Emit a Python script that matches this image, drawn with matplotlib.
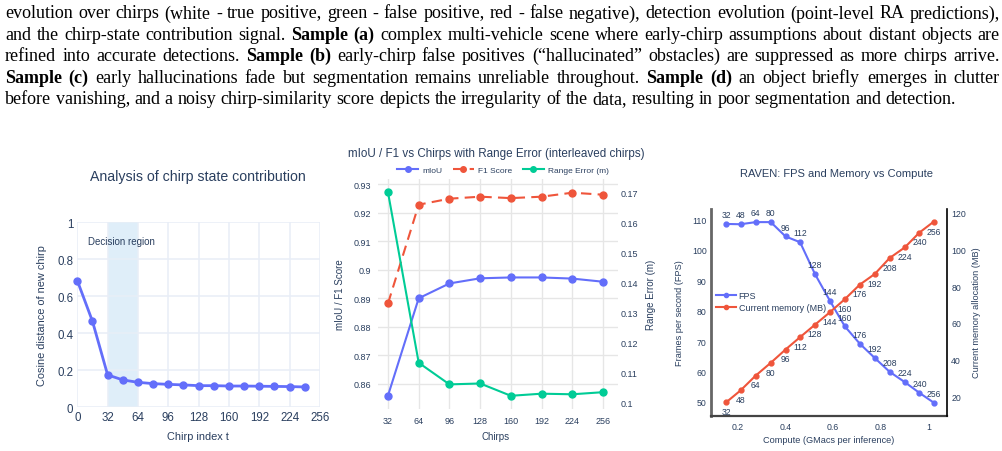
import matplotlib
matplotlib.use('Agg')

from matplotlib import pyplot as plt
from matplotlib.lines import Line2D

W, H = 1003, 452
TXT = '#2a3f5f'
BLUE, RED, GREEN = '#636efa', '#ef553b', '#00cc96'

# caption text above the plots: (text, bold) pieces per line
caption = [
    [('evolution over chirps (white - true positive, green - false positive, red - false negative), detection evolution (point-level RA predictions),', False)],
    [('and the chirp-state contribution signal.', False), ('Sample (a)', True),
     ('complex multi-vehicle scene where early-chirp assumptions about distant objects are', False)],
    [('refined into accurate detections.', False), ('Sample (b)', True),
     ('early-chirp false positives (\u201challucinated\u201d obstacles) are suppressed as more chirps arrive.', False)],
    [('Sample (c)', True), ('early hallucinations fade but segmentation remains unreliable throughout.', False),
     ('Sample (d)', True), ('an object briefly emerges in clutter', False)],
    [('before vanishing, and a noisy chirp-similarity score depicts the irregularity of the data, resulting in poor segmentation and detection.', False)],
]

# chart 1: chirp state contribution
chirp_t = [0, 16, 32, 48, 64, 80, 96, 112, 128, 144, 160, 176, 192, 208, 224, 240]
cos_dist = [0.685, 0.465, 0.175, 0.148, 0.135, 0.128, 0.124, 0.121, 0.117, 0.117,
            0.115, 0.115, 0.114, 0.113, 0.112, 0.110]
decision_start, decision_end = 32, 64

# chart 2: mIoU / F1 / range error
chirps = [32, 64, 96, 128, 160, 192, 224, 256]
miou = [0.8559, 0.8900, 0.8952, 0.8970, 0.8973, 0.8973, 0.8969, 0.8958]
f1 = [0.8882, 0.9228, 0.9249, 0.9256, 0.9251, 0.9256, 0.9270, 0.9263]
range_err = [0.1700, 0.1132, 0.1060, 0.1063, 0.1022, 0.1029, 0.1027, 0.1034]

# chart 3: RAVEN fps / memory vs compute
n_chirps = [32, 48, 64, 80, 96, 112, 128, 144, 160, 176, 192, 208, 224, 240, 256]
compute = [0.150, 0.211, 0.275, 0.338, 0.400, 0.461, 0.524, 0.587, 0.649, 0.712,
           0.775, 0.837, 0.901, 0.962, 1.022]
fps = [108.4, 108.3, 109.0, 109.0, 104.3, 102.4, 91.9, 83.1, 74.8, 69.1,
       64.4, 59.9, 56.5, 53.0, 49.8]
memory = [16.9, 23.4, 31.5, 38.4, 45.6, 52.3, 59.1, 65.9, 72.9, 80.8,
          86.6, 95.2, 101.0, 109.0, 114.9]


def rect(l, t, r, b):
    return [l / W, 1 - b / H, (r - l) / W, (b - t) / H]


def ftext(x, y, s, **kw):
    kw.setdefault('color', TXT)
    kw.setdefault('family', 'Liberation Sans')
    kw.setdefault('ha', 'center')
    kw.setdefault('va', 'center')
    return fig.text(x / W, 1 - y / H, s, **kw)


fig = plt.figure(figsize=(W / 100, H / 100), dpi=100)
renderer = fig.canvas.get_renderer()

# ---- justified caption ----
def word_width(s, bold, fs):
    t = fig.text(0, 0, s, fontsize=fs, family='Liberation Serif',
                 weight='bold' if bold else 'normal')
    w = t.get_window_extent(renderer).width
    t.remove()
    return w

def split_words(line):
    words = []
    for s, b in line:
        for w in s.split(' '):
            words.append((w, b))
    return words

left, right = 5, 1000
fs0 = 10
space0 = word_width('a a', False, fs0) - word_width('aa', False, fs0)
widest = 0
for line in caption:
    ws = split_words(line)
    nat = sum(word_width(w, b, fs0) for w, b in ws) + space0 * (len(ws) - 1)
    widest = max(widest, nat)
fs = fs0 * (right - left) * 0.985 / widest
space = word_width('a a', False, fs) - word_width('aa', False, fs)

baselines = [18.5, 40, 61.3, 82.8, 104.3]
for i, line in enumerate(caption):
    ws = split_words(line)
    widths = [word_width(w, b, fs) for w, b in ws]
    if i < len(caption) - 1:
        gap = (right - left - sum(widths)) / (len(ws) - 1)
    else:
        gap = space
    x = left
    for (w, b), wd in zip(ws, widths):
        fig.text(x / W, 1 - baselines[i] / H, w, fontsize=fs, family='Liberation Serif',
                 weight='bold' if b else 'normal', color='black', ha='left', va='baseline')
        x += wd + gap

# ---- chart 1 ----
ax1 = fig.add_axes(rect(77.3, 223.3, 320, 408.3))
ax1.axvspan(decision_start, decision_end, color='#dfeef9', lw=0, zorder=0)
ax1.plot(chirp_t, cos_dist, color=BLUE, lw=2, marker='o', ms=5, zorder=3, clip_on=False)
ax1.set_xlim(0, 256)
ax1.set_ylim(0, 1)
ax1.set_xticks(range(0, 257, 32))
ax1.set_yticks([0, 0.2, 0.4, 0.6, 0.8, 1])
ax1.set_yticklabels(['0', '0.2', '0.4', '0.6', '0.8', '1'])
ax1.grid(color='#e8eef7', lw=1.1)
ax1.set_axisbelow(True)
for s in ax1.spines.values():
    s.set_visible(False)
ax1.tick_params(length=0, labelsize=8.3, colors=TXT, pad=3)
for lab in ax1.get_xticklabels() + ax1.get_yticklabels():
    lab.set_family('Liberation Sans')
ax1.text(11, 0.9, 'Decision region', fontsize=7, color=TXT, family='Liberation Sans',
         ha='left', va='center')
ftext(198, 177, 'Analysis of chirp state contribution', fontsize=10.2)
ftext(198, 437, 'Chirp index t', fontsize=7.9)
ftext(42, 316, 'Cosine distance of new chirp', fontsize=7.9, rotation=90)

# ---- chart 2 ----
ax2 = fig.add_axes(rect(378, 180, 618, 410))
ax2b = ax2.twinx()
ax2.plot(chirps, miou, color=BLUE, lw=1.5, marker='o', ms=5)
ax2.plot(chirps, f1, color=RED, lw=1.5, ls=(0, (5, 3)), marker='o', ms=5)
ax2b.plot(chirps, range_err, color=GREEN, lw=1.5, marker='o', ms=5)
ax2.set_xlim(21.6, 271.6)
ax2.set_ylim(0.8512, 0.9318)
ax2b.set_ylim(0.0978, 0.1744)
ax2.set_xticks(chirps)
ax2.set_yticks([0.86, 0.87, 0.88, 0.89, 0.9, 0.91, 0.92, 0.93])
ax2.set_yticklabels(['0.86', '0.87', '0.88', '0.89', '0.9', '0.91', '0.92', '0.93'])
ax2b.set_yticks([0.10, 0.11, 0.12, 0.13, 0.14, 0.15, 0.16, 0.17])
ax2b.set_yticklabels(['0.1', '0.11', '0.12', '0.13', '0.14', '0.15', '0.16', '0.17'])
ax2.grid(color='#e6e6e6', lw=1)
ax2.set_axisbelow(True)
for a in (ax2, ax2b):
    for s in a.spines.values():
        s.set_visible(False)
    a.tick_params(length=0, labelsize=6.5, colors=TXT, pad=5)
    for lab in a.get_xticklabels() + a.get_yticklabels():
        lab.set_family('Liberation Sans')
ax2b.tick_params(pad=2)
handles = [Line2D([], [], color=BLUE, lw=1.5, marker='o', ms=4),
           Line2D([], [], color=RED, lw=1.5, ls=(0, (5, 3)), marker='o', ms=4),
           Line2D([], [], color=GREEN, lw=1.5, marker='o', ms=4)]
leg = fig.legend(handles, ['mIoU', 'F1 Score', 'Range Error (m)'], loc='center',
                 bbox_to_anchor=(503 / W, 1 - 171 / H), ncol=3, frameon=False,
                 prop={'family': 'Liberation Sans', 'size': 6}, handlelength=2.6,
                 columnspacing=1.2, handletextpad=0.5)
for t in leg.get_texts():
    t.set_color(TXT)
ftext(496, 154, 'mIoU / F1 vs Chirps with Range Error (interleaved chirps)', fontsize=8.4)
ftext(496, 437, 'Chirps', fontsize=7)
ftext(340, 295, 'mIoU / F1 Score', fontsize=7, rotation=90)
ftext(651, 295, 'Range Error (m)', fontsize=7, rotation=90)

# ---- chart 3 ----
ax3 = fig.add_axes(rect(711, 210, 947, 417))
ax3b = ax3.twinx()
ax3.plot(compute, fps, color=BLUE, lw=1.5, marker='o', ms=3.5)
ax3b.plot(compute, memory, color=RED, lw=1.5, marker='o', ms=3.5)
for c, x, y in zip(n_chirps, compute, fps):
    ax3.annotate(str(c), (x, y), xytext=(0, 3.5), textcoords='offset points', ha='center',
                 va='bottom', fontsize=6.2, color=TXT, family='Liberation Sans')
for c, x, y in zip(n_chirps, compute, memory):
    ax3b.annotate(str(c), (x, y), xytext=(0, -3.5), textcoords='offset points', ha='center',
                  va='top', fontsize=6.2, color=TXT, family='Liberation Sans')
ax3.set_xlim(0.087, 1.078)
ax3.set_ylim(45.4, 113.3)
ax3b.set_ylim(9.55, 121.8)
ax3.set_xticks([0.2, 0.4, 0.6, 0.8, 1])
ax3.set_xticklabels(['0.2', '0.4', '0.6', '0.8', '1'])
ax3.set_yticks(range(50, 111, 10))
ax3b.set_yticks(range(20, 121, 20))
for a in (ax3, ax3b):
    a.spines['top'].set_visible(False)
    a.tick_params(length=0, labelsize=6.3, colors=TXT, pad=3)
    for lab in a.get_xticklabels() + a.get_yticklabels():
        lab.set_family('Liberation Sans')
ax3.spines['right'].set_visible(False)
ax3.spines['left'].set_color('#666666')
ax3.spines['left'].set_linewidth(2)
ax3.spines['bottom'].set_color('#444444')
ax3.spines['bottom'].set_linewidth(1.6)
ax3b.spines['left'].set_visible(False)
ax3b.spines['bottom'].set_visible(False)
ax3b.spines['right'].set_color('black')
ax3b.spines['right'].set_linewidth(1.2)
ax3.tick_params(axis='x', pad=4)
h3 = [Line2D([], [], color=BLUE, lw=1.5, marker='o', ms=3),
      Line2D([], [], color=RED, lw=1.5, marker='o', ms=3)]
leg3 = ax3.legend(h3, ['FPS', 'Current memory (MB)'], loc='upper left',
                  bbox_to_anchor=(716 / W, 1 - 292 / H), bbox_transform=fig.transFigure,
                  frameon=False, prop={'family': 'Liberation Sans', 'size': 6.5},
                  handlelength=2.2, handletextpad=0.3, labelspacing=0.35,
                  borderpad=0, borderaxespad=0)
for t in leg3.get_texts():
    t.set_color(TXT)
ftext(837, 174, 'RAVEN: FPS and Memory vs Compute', fontsize=8.0)
ftext(829, 441, 'Compute (GMacs per inference)', fontsize=6.6)
ftext(680, 313, 'Frames per second (FPS)', fontsize=6.6, rotation=90)
ftext(977, 313, 'Current memory allocation (MB)', fontsize=6.6, rotation=90)

fig.savefig('out.png', dpi=100)
